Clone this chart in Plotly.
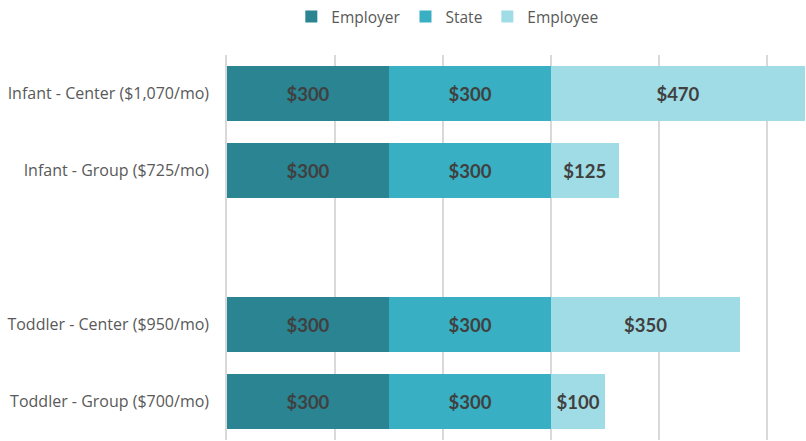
import plotly.graph_objects as go

categories = ["Infant - Center ($1,070/mo)", "Infant - Group ($725/mo)", " ",
              "Toddler - Center ($950/mo)", "Toddler - Group ($700/mo)"]
employer = [300, 300, None, 300, 300]
state = [300, 300, None, 300, 300]
employee = [470, 125, None, 350, 100]
series_names = ["Employer", "State", "Employee"]
colors = ["#2A8491", "#38AFC2", "#A0DCE5"]

fig = go.Figure()
for name, vals, col in zip(series_names, [employer, state, employee], colors):
    fig.add_trace(go.Bar(
        y=categories, x=vals, name=name, orientation="h",
        marker=dict(color=col, line=dict(width=0)),
        text=[f"${v}" if v is not None else "" for v in vals],
        textposition="inside", insidetextanchor="middle", constraintext="none",
        textfont=dict(family="Lato", size=18.5, color="#404040", weight="bold"),
        hoverinfo="skip",
    ))

fig.update_layout(
    barmode="stack", bargap=0.29,
    width=806, height=441,
    margin=dict(l=227, r=0, t=55, b=1),
    plot_bgcolor="white", paper_bgcolor="white",
    showlegend=True,
    legend=dict(orientation="h", xref="container", yref="container",
                x=0.555, xanchor="center", y=1.0, yanchor="top",
                font=dict(family="Open Sans", size=15.5, color="#595959"),
                itemwidth=30, traceorder="normal"),
    xaxis=dict(range=[0, 1072], dtick=200, showgrid=True, gridcolor="#D9D9D9",
               gridwidth=1.5, showticklabels=False, zeroline=False, showline=False),
    yaxis=dict(categoryorder="array", categoryarray=categories, autorange="reversed",
               tickfont=dict(family="Open Sans", size=16, color="#595959"),
               showgrid=False, showline=True, linecolor="#D9D9D9", linewidth=1.5,
               ticklabelstandoff=13),
)
fig.write_html("out.html", config={"displayModeBar": False},
               post_script="document.body.style.margin='0';document.body.style.padding='0';")
